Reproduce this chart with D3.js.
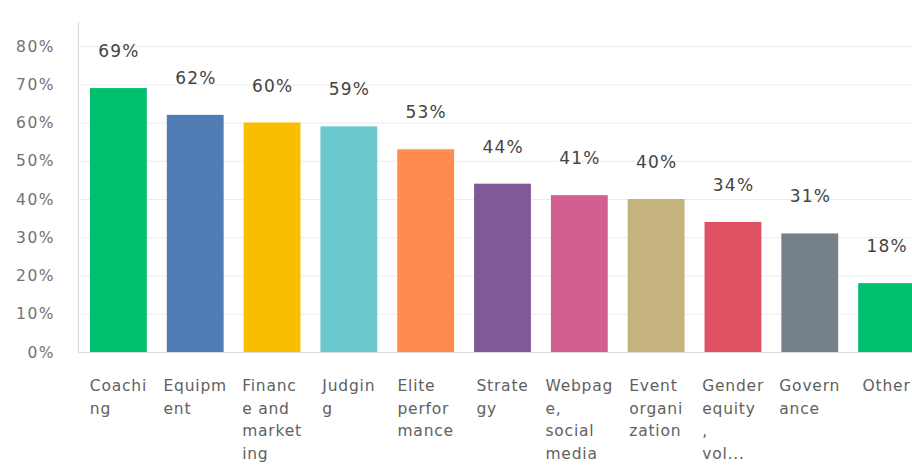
<!DOCTYPE html>
<html>
<head>
<meta charset="utf-8">
<script src="https://cdn.jsdelivr.net/npm/d3@7"></script>
<style>
  html, body { margin: 0; padding: 0; background: #fff; }
  svg { display: block; }
</style>
</head>
<body>
<svg id="chart" width="912" height="466"></svg>
<script>
// Answer categories and the share of respondents choosing each
const categories = ["Coaching", "Equipment", "Finance and marketing", "Judging",
  "Elite performance", "Strategy", "Webpage, social media", "Event organization",
  "Gender equity, vol...", "Governance", "Other"];
const values = [69, 62, 60, 59, 53, 44, 41, 40, 34, 31, 18];
const colors = ["#00BF6F", "#507CB6", "#F9BE00", "#6BC8CD", "#FF8B4F", "#7F5A96",
  "#D25F90", "#C4B37D", "#DE5162", "#75808A", "#00BF6F"];
// Axis labels as they wrap under each bar
const tickLines = [
  ["Coachi", "ng"], ["Equipm", "ent"], ["Financ", "e and", "market", "ing"],
  ["Judgin", "g"], ["Elite", "perfor", "mance"], ["Strate", "gy"],
  ["Webpag", "e,", "social", "media"], ["Event", "organi", "zation"],
  ["Gender", "equity", ",", "vol..."], ["Govern", "ance"], ["Other"]
];
const yTicks = [0, 10, 20, 30, 40, 50, 60, 70, 80];

const svg = d3.select("#chart");
const plotLeft = 78, plotRight = 925, plotTop = 46, plotBottom = 352;

const x = d3.scaleBand().domain(categories).range([plotLeft + 2, plotRight]).paddingInner(0.26).paddingOuter(0.13);
const y = d3.scaleLinear().domain([0, 80]).range([plotBottom, plotTop]);

// Gridlines
svg.append("g").selectAll("line").data(yTicks.filter(d => d > 0)).join("line")
  .attr("x1", plotLeft).attr("x2", 912)
  .attr("y1", d => y(d) + 0.5).attr("y2", d => y(d) + 0.5)
  .attr("stroke", "#ececec").attr("stroke-width", 1);

// Left axis line and baseline
svg.append("line").attr("x1", plotLeft + 0.5).attr("x2", plotLeft + 0.5)
  .attr("y1", 22).attr("y2", plotBottom).attr("stroke", "#d6d6d6");
svg.append("line").attr("x1", plotLeft).attr("x2", 912)
  .attr("y1", plotBottom + 0.5).attr("y2", plotBottom + 0.5).attr("stroke", "#dedede");

// Y axis tick labels
svg.append("g").selectAll("text").data(yTicks).join("text")
  .attr("x", 55).attr("y", d => y(d))
  .attr("dy", "0.36em").attr("text-anchor", "end")
  .attr("font-family", "'DejaVu Sans', sans-serif").attr("font-size", 15.5)
  .attr("letter-spacing", 1.5)
  .attr("fill", "#727272")
  .text(d => d + "%");

// Bars
svg.append("g").selectAll("rect").data(values).join("rect")
  .attr("x", (d, i) => x(categories[i]))
  .attr("y", d => y(d))
  .attr("width", x.bandwidth())
  .attr("height", d => y(0) - y(d))
  .attr("fill", (d, i) => colors[i]);

// Value labels above the bars
svg.append("g").selectAll("text").data(values).join("text")
  .attr("x", (d, i) => x(categories[i]) + x.bandwidth() / 2 + 0.6)
  .attr("y", d => y(d) - 31)
  .attr("text-anchor", "middle")
  .attr("font-family", "'DejaVu Sans', sans-serif").attr("font-size", 17)
  .attr("letter-spacing", 1.2)
  .attr("fill", "#444")
  .text(d => d + "%");

// Category labels: lines left-aligned in a block centred under each bar
const lab = svg.append("g").selectAll("text").data(tickLines).join("text")
  .attr("y", 391)
  .attr("font-family", "'DejaVu Sans', sans-serif").attr("font-size", 15.5)
  .attr("letter-spacing", 0.8)
  .attr("fill", "#616161");
lab.each(function(lines, i) {
  const t = d3.select(this);
  const spans = lines.map((ln, j) =>
    t.append("tspan").attr("dy", j === 0 ? 0 : 22.5).text(ln));
  const w = d3.max(spans, s => s.node().getComputedTextLength());
  const x0 = x(categories[i]) + x.bandwidth() / 2 - w / 2;
  spans.forEach(s => s.attr("x", x0));
});
</script>
</body>
</html>
